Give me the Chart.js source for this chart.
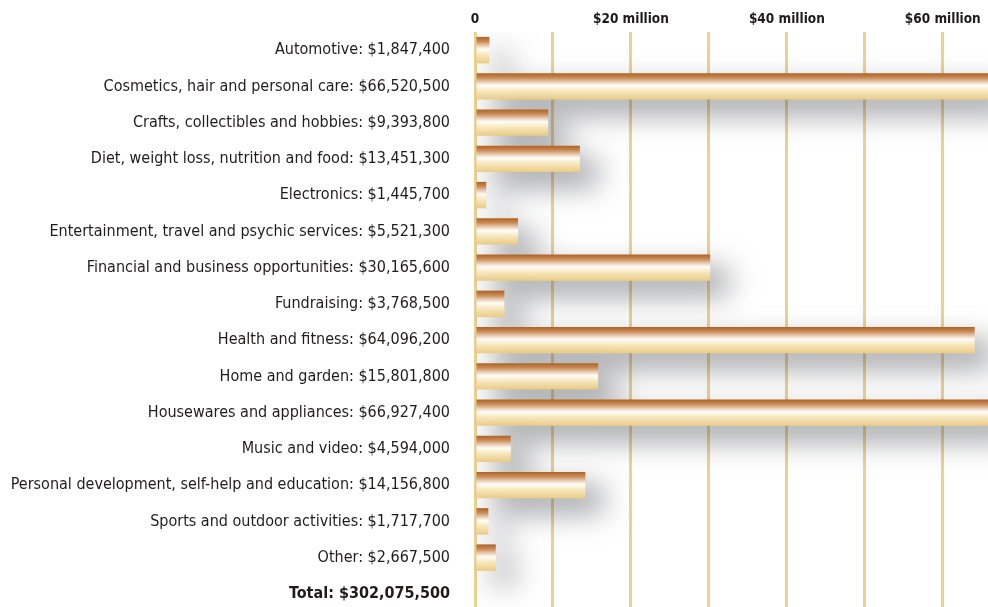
<!DOCTYPE html>
<html>
<head>
<meta charset="utf-8">
<script src="https://cdn.jsdelivr.net/npm/chart.js@4"></script>
<style>
  html, body { margin: 0; padding: 0; background: #ffffff; overflow: hidden; }
  #wrap { width: 988px; height: 612px; }
</style>
</head>
<body>
<div id="wrap"><canvas id="adChart"></canvas></div>
<script>
// Категории и суммы (в долларах)
const categories = [
    "Automotive",
    "Cosmetics, hair and personal care",
    "Crafts, collectibles and hobbies",
    "Diet, weight loss, nutrition and food",
    "Electronics",
    "Entertainment, travel and psychic services",
    "Financial and business opportunities",
    "Fundraising",
    "Health and fitness",
    "Home and garden",
    "Housewares and appliances",
    "Music and video",
    "Personal development, self-help and education",
    "Sports and outdoor activities",
    "Other"
];
const amounts = [
    1847400, 66520500, 9393800, 13451300, 1445700,
    5521300, 30165600, 3768500, 64096200, 15801800,
    66927400, 4594000, 14156800, 1717700, 2667500
];
const totalLabel = "Total";
const totalAmount = 302075500;

// линии сетки каждые 10 млн, подписи только у 0/20/40/60
const xGridValues = [0, 10000000, 20000000, 30000000, 40000000, 50000000, 60000000];
const xTickValues = [0, 20000000, 40000000, 60000000];
const xTickLabels = ["0", "$20 million", "$40 million", "$60 million"];

const FONT = '"Liberation Sans Narrow", "DejaVu Sans Condensed", "DejaVu Sans", sans-serif';

function money(v) {
    return "$" + v.toLocaleString("en-US");
}

let labels = categories.map((c, i) => c + ": " + money(amounts[i]));
labels.push(totalLabel + ": " + money(totalAmount));
let values = amounts.slice();
values.push(null);

// градиент для каждой полосы
function barGradient(context) {
    const chart = context.chart;
    const yScale = chart.scales.y;
    if (!chart.chartArea || !yScale) return "#e9c98f";
    const c = yScale.getPixelForValue(context.dataIndex);
    const h = 13.5;
    const g = chart.ctx.createLinearGradient(0, c - h, 0, c + h);
    g.addColorStop(0, "#ad5f1c");
    g.addColorStop(0.18, "#c98a57");
    g.addColorStop(0.34, "#e9cdb6");
    g.addColorStop(0.47, "#fffdf9");
    g.addColorStop(0.64, "#f8eac4");
    g.addColorStop(1, "#eacb82");
    return g;
}

// тень под полосами
const barShadow = {
    id: "barShadow",
    beforeDatasetsDraw(chart) {
        const ctx = chart.ctx;
        ctx.save();
        ctx.shadowColor = "rgba(50, 52, 60, 0.5)";
        ctx.shadowBlur = 30;
        ctx.shadowOffsetX = 18;
        ctx.shadowOffsetY = 14;
    },
    afterDatasetsDraw(chart) {
        chart.ctx.restore();
    }
};

let adCtx = document.getElementById("adChart").getContext("2d");
let adChart = new Chart(adCtx, {
    type: "bar",
    data: {
        labels: labels,
        datasets: [{
            data: values,
            backgroundColor: barGradient,
            borderWidth: 0,
            barPercentage: 0.73,
            categoryPercentage: 1
        }]
    },
    plugins: [barShadow],
    options: {
        indexAxis: "y",
        responsive: true,
        maintainAspectRatio: false,
        animation: false,
        layout: { padding: 0 },
        plugins: {
            legend: { display: false },
            tooltip: { enabled: false }
        },
        scales: {
            x: {
                position: "top",
                min: 0,
                max: 65800000,
                afterBuildTicks(scale) {
                    scale.ticks = xGridValues.map(v => ({ value: v }));
                },
                afterFit(scale) {
                    scale.height = 32;
                    scale.paddingLeft = 0;
                    scale.paddingRight = 0;
                },
                border: { display: false },
                grid: {
                    drawTicks: false,
                    lineWidth: 3,
                    color: "#ebd291"
                },
                ticks: {
                    autoSkip: false,
                    maxRotation: 0,
                    padding: 4,
                    color: "#1c1a1a",
                    font: { family: FONT, size: 13.5, weight: "bold" },
                    callback: function (value) {
                        let i = xTickValues.indexOf(value);
                        return i >= 0 ? xTickLabels[i] : "";
                    }
                }
            },
            y: {
                afterFit(scale) {
                    scale.width = 475;
                    scale.paddingTop = 0;
                    scale.paddingBottom = 0;
                },
                border: { display: false },
                grid: { display: false, drawTicks: false, tickLength: 0 },
                ticks: {
                    padding: 25,
                    autoSkip: false,
                    color: "#1f1c1c",
                    font: (c) => ({
                        family: FONT,
                        size: 16,
                        weight: c.index === labels.length - 1 ? "bold" : "normal"
                    })
                }
            }
        }
    }
});
</script>
</body>
</html>
